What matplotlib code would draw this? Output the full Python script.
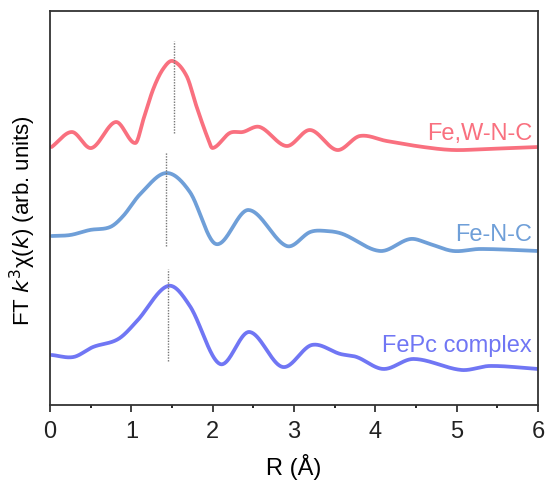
import matplotlib
matplotlib.use('Agg')
import numpy as np
import matplotlib.pyplot as plt
from matplotlib.ticker import MultipleLocator

plt.rcParams['font.family'] = ['Liberation Sans', 'DejaVu Sans']

# Fe,W-N-C (offset already included)
r_fewnc = [0.02, 0.27, 0.51, 0.81, 1.05, 1.15, 1.27, 1.39, 1.51, 1.68, 1.80, 1.93, 2.00,
           2.21, 2.37, 2.58, 2.91, 3.20, 3.53, 3.81, 4.14, 4.59, 4.96, 5.37, 6.0]
y_fewnc = [2.58, 2.73, 2.57, 2.83, 2.62, 2.86, 3.16, 3.36, 3.44, 3.29, 2.99, 2.69, 2.57,
           2.72, 2.73, 2.78, 2.59, 2.75, 2.55, 2.69, 2.64, 2.58, 2.55, 2.56, 2.58]

# Fe-N-C
r_fenc = [0.02, 0.25, 0.49, 0.74, 0.90, 1.11, 1.43, 1.72, 2.04, 2.44, 2.91,
          3.20, 3.40, 3.60, 4.06, 4.43, 4.67, 4.96, 5.29, 6.0]
y_fenc = [1.69, 1.70, 1.75, 1.78, 1.89, 2.11, 2.32, 2.13, 1.61, 1.95, 1.59,
          1.73, 1.74, 1.71, 1.54, 1.66, 1.61, 1.54, 1.56, 1.54]

# FePc complex
r_fepc = [0.02, 0.29, 0.53, 0.84, 1.07, 1.45, 1.72, 2.09, 2.45, 2.86,
          3.22, 3.57, 3.77, 4.10, 4.47, 5.06, 5.41, 6.0]
y_fepc = [0.50, 0.48, 0.58, 0.66, 0.84, 1.19, 0.99, 0.41, 0.73, 0.38,
          0.60, 0.51, 0.48, 0.36, 0.46, 0.35, 0.39, 0.36]

labels = ['Fe,W-N-C', 'Fe-N-C', 'FePc complex']
peak_r = [1.52, 1.43, 1.45]
peak_lines = [(2.72, 3.64), (1.59, 2.53), (0.44, 1.36)]
label_y = [2.72, 1.71, 0.60]
colors = ['#F9707F', '#6F9FD8', '#7076F4']


def smooth(r, y):
    # cubic Hermite curve through the read points
    r = np.asarray(r, float)
    y = np.asarray(y, float)
    xs, ys = [], []
    for i in range(len(r) - 1):
        p0 = y[i - 1] if i > 0 else y[i]
        p3 = y[i + 2] if i + 2 < len(r) else y[i + 1]
        x0 = r[i - 1] if i > 0 else r[i]
        x3 = r[i + 2] if i + 2 < len(r) else r[i + 1]
        m1 = (y[i + 1] - p0) / (r[i + 1] - x0)
        m2 = (p3 - y[i]) / (x3 - r[i])
        h = r[i + 1] - r[i]
        t = np.linspace(0, 1, 40, endpoint=False)
        h00 = 2 * t**3 - 3 * t**2 + 1
        h10 = t**3 - 2 * t**2 + t
        h01 = -2 * t**3 + 3 * t**2
        h11 = t**3 - t**2
        xs.append(r[i] + t * h)
        ys.append(h00 * y[i] + h10 * h * m1 + h01 * y[i + 1] + h11 * h * m2)
    xs.append([r[-1]])
    ys.append([y[-1]])
    return np.concatenate(xs), np.concatenate(ys)


fig = plt.figure(figsize=(5.47, 4.81), dpi=100)
ax = fig.add_axes([0.0914, 0.156, 0.892, 0.819])

series = [(r_fewnc, y_fewnc), (r_fenc, y_fenc), (r_fepc, y_fepc)]
for (r, y), c, lab, pr, (y0, y1), ly in zip(series, colors, labels, peak_r, peak_lines, label_y):
    xs, ys = smooth(r, y)
    ax.plot(xs, ys, color=c, lw=2.7, solid_capstyle='round')
    ax.plot([pr, pr], [y0, y1], color='#777777', lw=1.0, ls=(0, (1, 1)))
    ax.text(5.93, ly, lab, color=c, fontsize=17, ha='right', va='center')

ax.set_xlim(0, 6)
ax.set_ylim(0, 3.94)
ax.xaxis.set_major_locator(MultipleLocator(1))
ax.xaxis.set_minor_locator(MultipleLocator(0.5))
ax.set_yticks([])
ax.tick_params(axis='x', which='major', direction='out', length=5, width=1.2,
               labelsize=17, colors='#222222', top=False, pad=6)
ax.tick_params(axis='x', which='minor', direction='out', length=2.5, width=1.2, top=False)
for s in ax.spines.values():
    s.set_linewidth(1.3)
    s.set_color('#333333')

ax.set_xlabel('R (Å)', fontsize=17, labelpad=8)
ax.set_ylabel(r'FT $k^3$χ($k$) (arb. units)', fontsize=16)
ax.yaxis.set_label_coords(-0.025, 0.47)

fig.savefig('out.png', dpi=100)
